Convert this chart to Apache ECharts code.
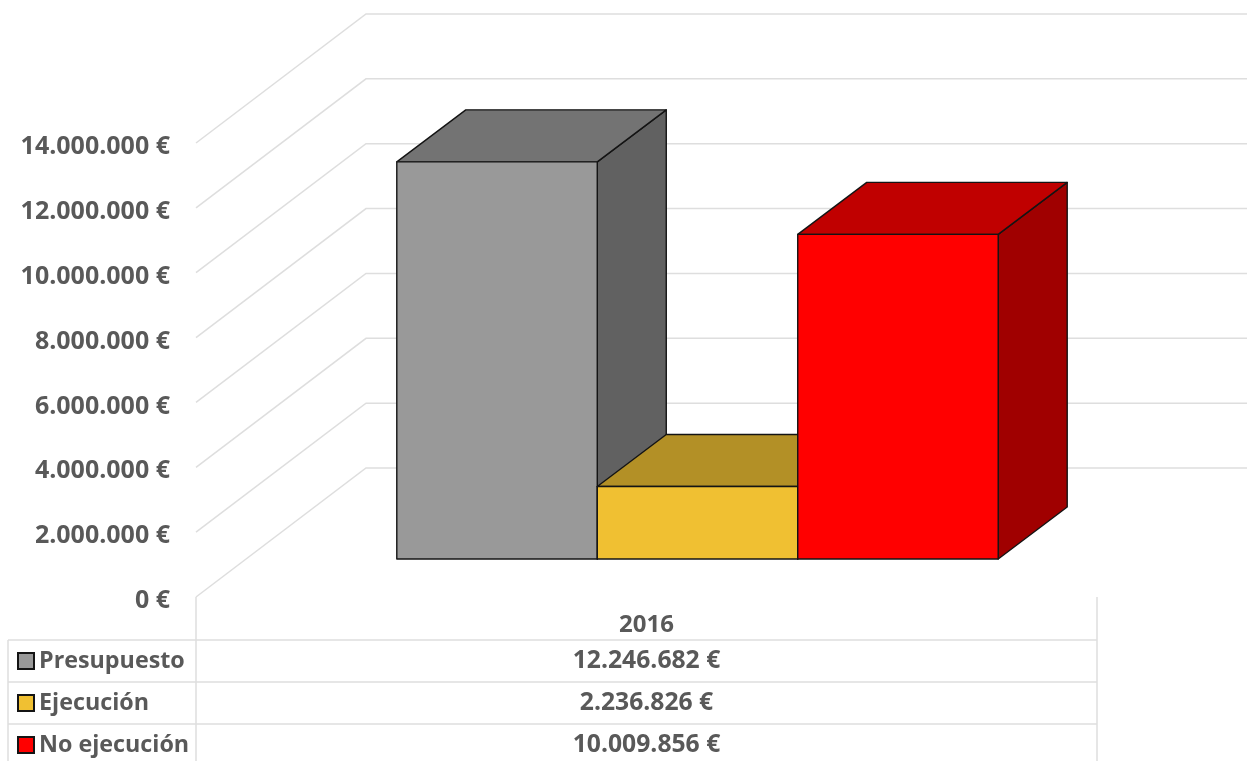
<!DOCTYPE html>
<html>
<head>
<meta charset="utf-8">
<style>html,body{margin:0;padding:0;background:#fff}#c{width:1247px;height:761px}</style>
<script src="https://cdn.jsdelivr.net/npm/echarts@6/dist/echarts.min.js"></script>
</head>
<body>
<div id="c"></div>
<script>
const categories = ['2016'];
const seriesNames = ['Presupuesto', 'Ejecución', 'No ejecución'];
const presupuesto = [12246682];
const ejecucion = [2236826];
const noEjecucion = [10009856];
const tickValues = [0, 2000000, 4000000, 6000000, 8000000, 10000000, 12000000, 14000000];
const frontColors = ['#999999', '#F0C032', '#FF0000'];
const topColors = ['#737373', '#B39026', '#C00000'];
const sideColors = ['#616161', '#A07F20', '#A00000'];

const EDGE = '#141414', GRID = '#DEDEDE', TXT = '#595959';
const FONT = '"Open Sans"';
const WALL_DX = 170, WALL_DY = -129;
const BAR_DX = 69, BAR_DY = -52;
const FRONT_DX = 51, FRONT_DY = -38;
const BAR_FRAC = 0.2225;

const fmt = v => String(v).replace(/\B(?=(\d{3})+(?!\d))/g, '.') + ' €';

function barItem(idx) {
  return function (params, api) {
    const band = api.size([1, 0])[0];
    const w = band * BAR_FRAC;
    const base = api.coord([api.value(0), 0]);
    const top = api.coord([api.value(0), api.value(1)]);
    const x0 = base[0] + FRONT_DX + (idx - 1.5) * w;
    const x1 = x0 + w;
    const yb = base[1] + FRONT_DY;
    const yt = top[1] + FRONT_DY;
    const st = c => ({ fill: c, stroke: EDGE, lineWidth: 1.4, lineJoin: 'round' });
    return {
      type: 'group',
      children: [
        { type: 'polygon', shape: { points: [[x1, yt], [x1 + BAR_DX, yt + BAR_DY], [x1 + BAR_DX, yb + BAR_DY], [x1, yb]] }, style: st(sideColors[idx]) },
        { type: 'polygon', shape: { points: [[x0, yt], [x0 + BAR_DX, yt + BAR_DY], [x1 + BAR_DX, yt + BAR_DY], [x1, yt]] }, style: st(topColors[idx]) },
        { type: 'polygon', shape: { points: [[x0, yt], [x1, yt], [x1, yb], [x0, yb]] }, style: st(frontColors[idx]) }
      ]
    };
  };
}

function gridItem(params, api) {
  const p = api.coord([0, api.value(0)]);
  const left = p[0] - api.size([1, 0])[0] / 2;
  return {
    type: 'polyline',
    shape: { points: [[left, p[1]], [left + WALL_DX, p[1] + WALL_DY], [api.getWidth(), p[1] + WALL_DY]] },
    style: { fill: null, stroke: GRID, lineWidth: 1.5 }
  };
}

const T = { L: 8, A: 196, R: 1097, top: 597, r0: 640, r1: 682, r2: 724, b: 761 };
const tableLine = (x1, y1, x2, y2) => ({
  type: 'line', shape: { x1, y1, x2, y2 }, style: { stroke: GRID, lineWidth: 1.5 }, silent: true
});
const valueText = (v, y) => ({
  type: 'text', x: (T.A + T.R) / 2, y,
  style: { text: fmt(v), font: 'bold 24.7px ' + FONT, fill: TXT, align: 'center', verticalAlign: 'middle' }
});

const seriesData = [presupuesto, ejecucion, noEjecucion];
const chart = echarts.init(document.getElementById('c'), null, { renderer: 'canvas' });
chart.setOption({
  animation: false,
  backgroundColor: '#fff',
  grid: { left: T.A, right: 1247 - T.R, top: 143, bottom: 761 - T.top },
  xAxis: {
    type: 'category', data: categories,
    axisLine: { show: false }, axisTick: { show: false }, splitLine: { show: false },
    axisLabel: { color: TXT, fontFamily: FONT, fontWeight: 'bold', fontSize: 24, margin: 16 }
  },
  yAxis: {
    type: 'value', min: 0, max: 14000000, interval: 2000000,
    axisLine: { show: false }, axisTick: { show: false }, splitLine: { show: false },
    axisLabel: {
      margin: 26, formatter: v => '{t|' + fmt(v) + '}',
      rich: { t: { color: TXT, fontFamily: FONT, fontWeight: 'bold', fontSize: 25, padding: [8, 0, 0, 0] } }
    }
  },
  legend: {
    show: true, orient: 'vertical', left: 17, top: 647, padding: 0, itemWidth: 16, itemHeight: 16, itemGap: 14,
    icon: 'rect', selectedMode: false, data: seriesNames,
    textStyle: { color: TXT, fontFamily: FONT, fontWeight: 'bold', fontSize: 23.3, lineHeight: 28 }
  },
  graphic: [
    tableLine(T.A, T.top, T.A, T.b), tableLine(T.R, T.top, T.R, T.b), tableLine(T.L, T.r0, T.L, T.b),
    tableLine(T.L, T.r0, T.R, T.r0), tableLine(T.L, T.r1, T.R, T.r1), tableLine(T.L, T.r2, T.R, T.r2),
    valueText(presupuesto[0], 661), valueText(ejecucion[0], 703), valueText(noEjecucion[0], 745)
  ],
  series: [
    { type: 'custom', name: 'grid', silent: true, renderItem: gridItem, data: tickValues.map(v => [v]), encode: { y: 0 }, z: 1 }
  ].concat(seriesNames.map((n, i) => ({
    type: 'custom', name: n, renderItem: barItem(i), z: 2 + i,
    itemStyle: { color: frontColors[i], borderColor: EDGE, borderWidth: 1.4 },
    data: [[0, seriesData[i][0]]], encode: { x: 0, y: 1 }
  })))
});
</script>
</body>
</html>
